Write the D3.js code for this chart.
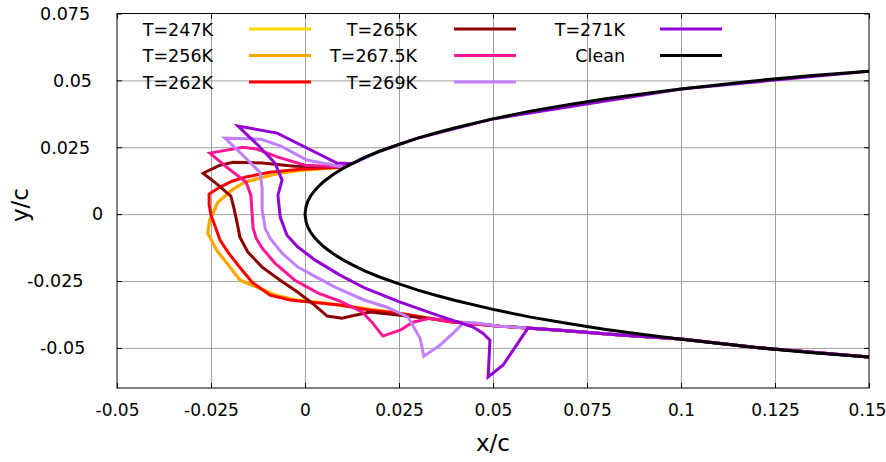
<!DOCTYPE html>
<html>
<head>
<meta charset="utf-8">
<script src="https://cdn.jsdelivr.net/npm/d3@7"></script>
<style>
body { margin: 0; background: #fff; }
svg text { font-family: "DejaVu Sans", sans-serif; fill: #000; }
</style>
</head>
<body>
<svg class="ice" width="886" height="462"></svg>
<script>
const xTicks = [-0.05, -0.025, 0, 0.025, 0.05, 0.075, 0.1, 0.125, 0.15];
const xTickLabels = ["-0.05", "-0.025", "0", "0.025", "0.05", "0.075", "0.1", "0.125", "0.15"];
const yTicks = [-0.05, -0.025, 0, 0.025, 0.05, 0.075];
const yTickLabels = ["-0.05", "-0.025", "0", "0.025", "0.05", "0.075"];

const seriesNames = ["T=247K", "T=256K", "T=262K", "T=265K", "T=267.5K", "T=269K", "T=271K", "Clean"];

// shared part of the lower surface where the ice shapes run together
const lowerTail = [[0.0245, -0.037], [0.0386, -0.0402], [0.0519, -0.0419], [0.0678, -0.0434],
    [0.0838, -0.0452], [0.1, -0.0467], [0.12, -0.0499], [0.15, -0.0534]];

const t247 = [[0.0106, 0.0176], [-0.0013, 0.0163], [-0.0075, 0.0151], [-0.0162, 0.0118], [-0.0197, 0.0088],
    [-0.0233, 0.0043], [-0.0254, -0.0023], [-0.0258, -0.0072], [-0.0234, -0.0136], [-0.0207, -0.0184],
    [-0.0172, -0.0246], [-0.0127, -0.0272], [-0.0079, -0.0302], [-0.0026, -0.032], [0.0054, -0.0332],
    [0.0147, -0.035]];
const t256 = [[0.0106, 0.0176], [-0.0013, 0.0164], [-0.0072, 0.0153], [-0.016, 0.012], [-0.0194, 0.009],
    [-0.0231, 0.0045], [-0.0253, -0.0022], [-0.0259, -0.0071], [-0.0235, -0.0135], [-0.0208, -0.0183],
    [-0.0173, -0.0247], [-0.0128, -0.0273], [-0.008, -0.0303], [-0.0027, -0.0321], [0.0053, -0.0333],
    [0.0146, -0.0351]];
const t262 = [[0.0106, 0.0176], [-0.0013, 0.0168], [-0.0093, 0.0157], [-0.016, 0.0138], [-0.0194, 0.0123],
    [-0.0226, 0.0101], [-0.0255, 0.0075], [-0.0255, 0.0034], [-0.025, -0.0004], [-0.0239, -0.0045],
    [-0.0226, -0.0097], [-0.0205, -0.0142], [-0.0178, -0.0191], [-0.0141, -0.0254], [-0.0093, -0.0303],
    [-0.004, -0.0321], [0.0013, -0.0329], [0.0093, -0.034], [0.0173, -0.0359]];
const t265 = [[0.0106, 0.0176], [-0.0027, 0.0179], [-0.0114, 0.0191], [-0.0191, 0.0194], [-0.0226, 0.0183],
    [-0.0271, 0.0153], [-0.0234, 0.0112], [-0.0197, 0.0067], [-0.0189, 0.0022], [-0.0181, -0.003],
    [-0.0173, -0.0086], [-0.0152, -0.0142], [-0.0114, -0.0198], [-0.0066, -0.0247], [-0.0019, -0.0292],
    [0.0019, -0.0333], [0.0059, -0.0381], [0.0098, -0.0389], [0.0133, -0.0378], [0.0173, -0.0366],
    [0.0253, -0.0378], [0.0386, -0.04]];
const t2675 = [[0.0106, 0.0176], [0, 0.0183], [-0.0072, 0.0213], [-0.0128, 0.0243], [-0.0165, 0.025],
    [-0.0253, 0.0228], [-0.0205, 0.0172], [-0.0157, 0.012], [-0.0144, 0.0071], [-0.0141, 0.0007],
    [-0.0138, -0.0052], [-0.013, -0.009], [-0.0114, -0.0127], [-0.008, -0.0183], [-0.0027, -0.0247],
    [0.0035, -0.0295], [0.0093, -0.0325], [0.0152, -0.0366], [0.0178, -0.0404], [0.0207, -0.0456],
    [0.0253, -0.0434], [0.0287, -0.0404], [0.0332, -0.0389]];
const t269 = [[0.0101, 0.0176], [0.0005, 0.0202], [-0.0064, 0.0254], [-0.0117, 0.028], [-0.0213, 0.0284],
    [-0.016, 0.0213], [-0.012, 0.0157], [-0.0114, 0.0097], [-0.0114, 0.0015], [-0.0106, -0.0052],
    [-0.0093, -0.009], [-0.0061, -0.0146], [-0.0019, -0.0198], [0.0035, -0.0239], [0.008, -0.0273],
    [0.0157, -0.0321], [0.0218, -0.0348], [0.0274, -0.0385], [0.0306, -0.0464], [0.0316, -0.0531],
    [0.0359, -0.049], [0.0394, -0.0445], [0.0423, -0.0404], [0.0452, -0.0406]];
const t271 = [[0.15, 0.0534], [0.1, 0.0468], [0.05, 0.0356], [0.03, 0.0284], [0.02, 0.0236], [0.0125, 0.0188],
    [0.0085, 0.0191], [-0.0074, 0.0303], [-0.0178, 0.0329], [-0.0128, 0.0262],
    [-0.008, 0.0191], [-0.0061, 0.0127], [-0.0072, 0.0071], [-0.0066, -0.0011], [-0.0048, -0.0079],
    [-0.0019, -0.0123], [0.0027, -0.0172], [0.0093, -0.0228], [0.016, -0.0277], [0.0253, -0.0329],
    [0.0359, -0.0381], [0.0447, -0.0422], [0.0473, -0.0445], [0.0492, -0.0471], [0.0487, -0.0609],
    [0.0527, -0.0564], [0.0593, -0.0426], [0.0638, -0.043], [0.0705, -0.0437]];
const clean = [[0.15, 0.0534], [0.135, 0.0518], [0.12, 0.0499], [0.1, 0.0468], [0.09, 0.045], [0.08, 0.0431],
    [0.07, 0.0409], [0.06, 0.0385], [0.05, 0.0356], [0.04, 0.0323], [0.035, 0.0304], [0.03, 0.0284],
    [0.025, 0.0261], [0.02, 0.0236], [0.016, 0.0213], [0.0125, 0.0189], [0.01, 0.017], [0.0075, 0.0148],
    [0.005, 0.0122], [0.0035, 0.0102], [0.0025, 0.0087], [0.0015, 0.0068], [0.0008, 0.005], [0.0003, 0.003],
    [0, 0], [0.0003, -0.003], [0.0008, -0.005], [0.0015, -0.0068], [0.0025, -0.0087], [0.0035, -0.0102],
    [0.005, -0.0122], [0.0075, -0.0148], [0.01, -0.017], [0.0125, -0.0189], [0.016, -0.0213], [0.02, -0.0236],
    [0.025, -0.0261], [0.03, -0.0284], [0.035, -0.0304], [0.04, -0.0323], [0.05, -0.0356], [0.06, -0.0385],
    [0.07, -0.0409], [0.08, -0.0431], [0.09, -0.045], [0.1, -0.0468], [0.12, -0.0499], [0.135, -0.0518],
    [0.15, -0.0534]];

const colors = ["#ffd700", "#ffa500", "#ff0000", "#8b0000", "#ff1493", "#c080ff", "#9400d3", "#000000"];

function drawIce() {
    const svg = d3.select("svg.ice");
    const margin = { top: 13.5, right: 17, bottom: 74, left: 117 };
    const width = +svg.attr("width") - margin.left - margin.right;
    const height = +svg.attr("height") - margin.top - margin.bottom;

    const x = d3.scaleLinear().domain([-0.05, 0.15]).range([0, width]);
    const y = d3.scaleLinear().domain([-0.065, 0.075]).range([height, 0]);

    const g = svg.append("g")
        .attr("transform", `translate(${margin.left}, ${margin.top})`);

    // grid
    g.append("g")
        .attr("class", "grid")
        .attr("transform", `translate(0, ${height})`)
        .call(d3.axisBottom(x).tickValues(xTicks.slice(1, -1)).tickSize(-height).tickFormat(""))
        .call(s => s.select(".domain").remove());
    g.append("g")
        .attr("class", "grid")
        .call(d3.axisLeft(y).tickValues(yTicks.slice(0, -1)).tickSize(-width).tickFormat(""))
        .call(s => s.select(".domain").remove());
    g.selectAll(".grid line").attr("stroke", "#a0a0a0").attr("stroke-width", 1);

    // inward ticks on all sides
    const tk = 5;
    g.append("g").attr("class", "tk").attr("transform", `translate(0, ${height})`)
        .call(d3.axisBottom(x).tickValues(xTicks).tickSize(-tk).tickFormat(""));
    g.append("g").attr("class", "tk")
        .call(d3.axisTop(x).tickValues(xTicks).tickSize(-tk).tickFormat(""));
    g.append("g").attr("class", "tk")
        .call(d3.axisLeft(y).tickValues(yTicks).tickSize(-tk).tickFormat(""));
    g.append("g").attr("class", "tk").attr("transform", `translate(${width}, 0)`)
        .call(d3.axisRight(y).tickValues(yTicks).tickSize(-tk).tickFormat(""));
    g.selectAll(".tk .domain").remove();
    g.selectAll(".tk line").attr("stroke", "#000");

    // x tick labels
    g.append("g")
        .attr("class", "x axis")
        .attr("transform", `translate(0, ${height})`)
        .call(d3.axisBottom(x).tickValues(xTicks).tickSize(0).tickPadding(16)
            .tickFormat((d, i) => xTickLabels[i]))
        .call(s => s.select(".domain").remove())
        .selectAll("text")
        .attr("font-size", 17)
        .attr("font-family", "DejaVu Sans, sans-serif")
        .attr("dx", (d, i) => i === xTicks.length - 1 ? -2 : 0);

    // y tick labels (gnuplot-ish placement)
    g.append("g")
        .attr("class", "y axis")
        .selectAll("text")
        .data(yTicks)
        .enter().append("text")
        .attr("x", (d, i) => 105 - 13 * yTickLabels[i].length - margin.left)
        .attr("y", d => y(d))
        .attr("dy", "0.36em")
        .attr("font-size", 17.5)
        .text((d, i) => yTickLabels[i]);

    // curves
    const line = d3.line().x(d => x(d[0])).y(d => y(d[1]));
    const shapes = [t247, t256, t262, t265, t2675, t269, t271].map(s => {
        const last = s[s.length - 1][0];
        return s.concat(lowerTail.filter(p => p[0] > last + 0.002));
    });
    shapes.push(clean);

    g.selectAll(".curve")
        .data(shapes)
        .enter().append("path")
        .attr("class", "curve")
        .attr("d", line)
        .attr("fill", "none")
        .attr("stroke", (d, i) => colors[i])
        .attr("stroke-width", 3)
        .attr("stroke-linejoin", "miter");

    // frame
    g.append("rect")
        .attr("width", width)
        .attr("height", height)
        .attr("fill", "none")
        .attr("stroke", "#000")
        .attr("stroke-width", 1);

    // legend
    const colText = [213, 417, 625];
    const colLine = [249, 454, 660];
    const rowY = [29, 55.5, 82];
    const leg = svg.append("g").attr("class", "legend");
    seriesNames.forEach((name, i) => {
        const c = Math.floor(i / 3);
        const r = i % 3;
        leg.append("text")
            .attr("x", colText[c])
            .attr("y", rowY[r])
            .attr("dy", "0.38em")
            .attr("text-anchor", "end")
            .attr("font-size", 17.5)
            .text(name);
        leg.append("line")
            .attr("x1", colLine[c])
            .attr("x2", colLine[c] + 62)
            .attr("y1", rowY[r])
            .attr("y2", rowY[r])
            .attr("stroke", colors[i])
            .attr("stroke-width", 3);
    });

    // axis titles
    svg.append("text")
        .attr("x", margin.left + width / 2)
        .attr("y", 451)
        .attr("text-anchor", "middle")
        .attr("font-size", 23)
        .text("x/c");
    svg.append("text")
        .attr("transform", "translate(28, 205) rotate(-90)")
        .attr("text-anchor", "middle")
        .attr("font-size", 23)
        .text("y/c");
}

drawIce();
</script>
</body>
</html>
